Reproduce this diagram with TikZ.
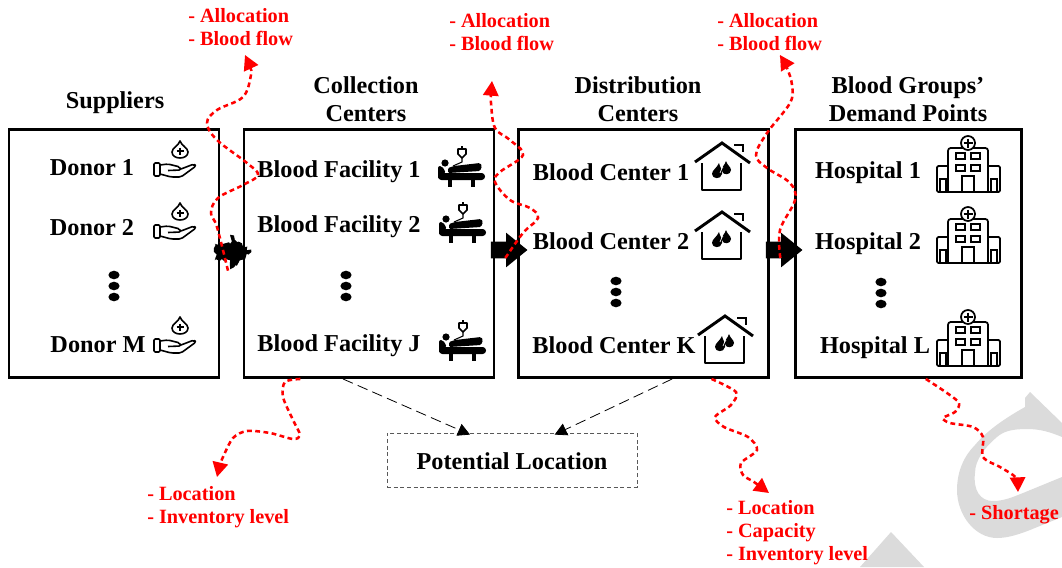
\documentclass[tikz,border=0pt]{standalone}
\usepackage{fontspec}
\setmainfont{Liberation Serif}
\usetikzlibrary{shapes, shapes.arrows, arrows.meta, decorations.pathmorphing, positioning}

\tikzset{
  stagebox/.style={draw, line width=2.2pt, minimum height=186pt, inner sep=0pt},
  blacklabel/.style={font=\fontsize{18.2}{21}\selectfont\bfseries, align=center, inner sep=0pt},
  redlabel/.style={font=\fontsize{15.2}{17.25}\selectfont\bfseries, text=red, align=left, anchor=north west, inner sep=0pt},
  blockarrow/.style={single arrow, fill=black, inner xsep=0pt, inner ysep=6pt, minimum height=27.5pt, minimum width=0pt,
    single arrow head extend=6.75pt, single arrow tip angle=78},
  redflow/.style={draw=red, line width=1.9pt, dash pattern=on 3.6pt off 2.6pt, line cap=butt,
    -{Triangle[length=11pt,width=11.5pt,fill=red]}},
  sitelink/.style={draw, line width=0.6pt, dash pattern=on 8pt off 4pt, -{Triangle[length=9pt,width=9.5pt]}},
  handicon/.pic={
    \draw[line width=1.2pt, line join=round] (5,-19) .. controls (6,-15) and (13,-12) .. (13,-8) .. controls (13,-4) and (9,-2) .. (5,-2)
      .. controls (1,-2) and (-3,-4) .. (-3,-8) .. controls (-3,-12) and (4,-15) .. (5,-19) -- cycle;
    \draw[line width=1pt] (1.5,-9) -- (8.5,-9) (5,-12.5) -- (5,-5.5);
    \draw[line width=1.2pt, rounded corners=1pt] (-21,3) rectangle (-15,16);
    \draw[line width=1.2pt, line join=round, rounded corners=1.5pt] (-15,5) -- (-7,4) -- (5,7) -- (6,10) -- (-7,10.5)
      (6,9) -- (19,4) -- (21,6) -- (6,17) -- (-4,17) -- (-15,14);
  },
  bedicon/.pic={
    \fill (-16,-4) circle (3.6);
    \draw[line width=0.9pt] (1,-21) -- (1,-18);
    \draw[line width=1.3pt, line join=round] (-3,-18) -- (5,-18) -- (5,-13) -- (1,-9) -- (-3,-13) -- cycle;
    \draw[line width=0.8pt] (1,-9) -- (1,-5) -- (-8,-1);
    \fill[rounded corners=1pt] (-13,1) -- (-7,-1) -- (19,-4) -- (21,-1) -- (19,4) -- (-13,6) -- cycle;
    \fill[rounded corners=1.5pt] (-23,-1) -- (-19,-1) -- (-15,6) -- (-23,12) -- cycle;
    \fill[rounded corners=2.5pt] (-23,6) rectangle (24,13);
    \draw[line width=3pt] (-11,12) -- (-11,20) (12,12) -- (12,20);
  },
  houseicon/.pic={
    \draw[line width=2.2pt, line join=miter] (-26,-5) -- (1,-24) -- (29,-4);
    \draw[line width=2.2pt] (13,-22) -- (22,-22) -- (22,-15);
    \draw[line width=2.2pt, line join=round] (-19,-4) -- (-19,23) -- (20,23) -- (20,-4);
    \fill (-2,-4) .. controls (-4,1) and (-9,3) .. (-9,7) .. controls (-9,12) and (0,13) .. (1,7) .. controls (2,3) and (-1,1) .. (-2,-4) -- cycle;
    \fill (5,-6) .. controls (4,-2) and (0,0) .. (1,4) .. controls (2,9) and (10,8) .. (10,3) .. controls (10,0) and (6,-2) .. (5,-6) -- cycle;
    \draw[white, line width=0.5pt] (-1,6) .. controls (0,3) and (1,1) .. (2,0);
  },
  hospitalicon/.pic={
    \draw[line width=1.3pt, rounded corners=2pt] (-20,28) -- (-20,-16) -- (20,-16) -- (20,28);
    \draw[line width=1.3pt, rounded corners=1pt] (-20,2) -- (-31,2) -- (-31,28) -- (32,28) -- (32,2) -- (20,2);
    \draw[line width=1.3pt, fill=white] (0,-21) circle (7);
    \draw[line width=1.1pt] (-4.5,-21) -- (4.5,-21) (0,-25.5) -- (0,-16.5);
    \foreach \wx in {-12,3} \foreach \wy in {-11,1} \draw[line width=1.3pt] (\wx,\wy) rectangle ++(9,6);
    \draw[line width=1.3pt] (-6,28) -- (-6,12) -- (6,12) -- (6,28);
    \draw[line width=1.3pt] (-28,28) -- (-28,15) -- (-22,15) -- (-22,28) (23,28) -- (23,15) -- (29,15) -- (29,28);
  }
}

\begin{document}
\begin{tikzpicture}[x=0.75pt, y=-0.75pt, >=latex]
    \useasboundingbox (0,0) rectangle (1062,567);

    \fill[black!14] (1030,392) -- (1062,423) -- (1062,437) .. controls (1050,432) and (1040,429) .. (1027,429)
      .. controls (1010,429) and (1003,432) .. (997,437) .. controls (985,447) and (975,460) .. (975,473)
      .. controls (973,490) and (980,501) .. (993,501) .. controls (1005,501) and (1015,496) .. (1023,493) -- (1062,477)
      -- (1062,517) -- (1030,530) .. controls (1015,536) and (1005,538) .. (997,538)
      .. controls (975,538) and (957,515) .. (957,490) .. controls (957,470) and (965,455) .. (975,445)
      .. controls (985,433) and (1000,421) .. (1025,407) -- (1025,398) -- cycle;
    \fill[black!14] (891,532) -- (924,567) -- (860,567) -- cycle;

    \node[stagebox, minimum width=157.5pt] (suppliers) at (114,253.5) {};
    \node[stagebox, minimum width=187.5pt] (collection) at (369,253.5) {};
    \node[stagebox, minimum width=187pt] (distribution) at (643.5,253.5) {};
    \node[stagebox, minimum width=170pt] (demand) at (908.5,253.5) {};
    \node[draw=black!65, densely dashed, line width=0.6pt, minimum width=187.5pt, minimum height=40.5pt] (potential) at (512,460) {};
    \node[blacklabel] (potentialtext) at (512,461) {Potential Location};

    \node[blacklabel] (supplierstitle) at (115,103) {Suppliers};
    \node[blacklabel] (collectiontitle) at (366,99) {Collection\\Centers};
    \node[blacklabel] (distributiontitle) at (638,99) {Distribution\\Centers};
    \node[blacklabel] (demandtitle) at (908,99) {Blood Groups'\\Demand Points};

    \node[blacklabel] (donora) at (92,168) {Donor 1};
    \node[blacklabel] (donorb) at (92,228) {Donor 2};
    \node[blacklabel] (donorm) at (98,345) {Donor M};
    \node[blacklabel] (facilitya) at (339,172) {Blood Facility 1};
    \node[blacklabel] (facilityb) at (339,227) {Blood Facility 2};
    \node[blacklabel] (facilityj) at (339,346) {Blood Facility J};
    \node[blacklabel] (centera) at (611,172) {Blood Center 1};
    \node[blacklabel] (centerb) at (611,241) {Blood Center 2};
    \node[blacklabel] (centerk) at (614,345) {Blood Center K};
    \node[blacklabel] (hospitala) at (868,173) {Hospital 1};
    \node[blacklabel] (hospitalb) at (868,244) {Hospital 2};
    \node[blacklabel] (hospitall) at (875,348) {Hospital L};

    \pic at (175,160) {handicon};
    \pic at (175,222) {handicon};
    \pic at (175,336) {handicon};
    \pic at (461,167) {bedicon};
    \pic at (462,223) {bedicon};
    \pic at (462,341) {bedicon};
    \pic at (721,167) {houseicon};
    \pic at (721,236) {houseicon};
    \pic at (724,340) {houseicon};
    \pic at (968,164) {hospitalicon};
    \pic at (968,235) {hospitalicon};
    \pic at (968,338) {hospitalicon};

    \foreach \dotx/\doty in {114/275, 346/275, 616/281, 881/282}
      \foreach \dotn in {0,1,2}
        \fill (\dotx,\doty+\dotn*11) ellipse [x radius=4.2pt, y radius=3.2pt];

    \node[blockarrow, decorate, decoration={random steps, segment length=2pt, amplitude=1.5pt}] (arrowsc) at (228,252) {};
    \node[blockarrow] (arrowcd) at (504,250) {};
    \node[blockarrow] (arrowdd) at (779,250) {};

    \draw[sitelink] ([xshift=-19.5pt]collection.south) -- ([xshift=-31.5pt, yshift=-1.5pt]potential.north);
    \draw[sitelink] ([xshift=21.5pt]distribution.south) -- ([xshift=32pt, yshift=-1.5pt]potential.north);

    \node[redlabel] (flowa) at (188,8) {- Allocation\\- Blood flow};
    \node[redlabel] (flowb) at (449,13) {- Allocation\\- Blood flow};
    \node[redlabel] (flowc) at (717,13) {- Allocation\\- Blood flow};
    \node[redlabel] (stocka) at (147,486) {- Location\\- Inventory level};
    \node[redlabel] (stockb) at (726,500) {- Location\\- Capacity\\- Inventory level};
    \node[redlabel] (short) at (969,505) {- Shortage};

    \coordinate (starta) at ([yshift=-14pt]arrowsc.center);
    \coordinate (startb) at ([xshift=1pt, yshift=-6pt]arrowcd.center);
    \coordinate (startc) at ([xshift=1pt, yshift=-6pt]arrowdd.center);
    \coordinate (startd) at ([xshift=-51.5pt]collection.south);
    \coordinate (starte) at ([xshift=51pt]distribution.south);
    \coordinate (startf) at ([xshift=13pt]demand.south);

    \draw[redflow] plot[smooth, tension=0.6] coordinates {(starta) (217,227) (211,213) (218,198) (243,185) (258,175) (247,163) (217,140) (207,123) (217,110) (243,97) (251,75) (250,67) (245,55)};
    \draw[redflow] plot[smooth, tension=0.6] coordinates {(startb) (523,233) (538,218) (530,208) (510,200) (495,182) (500,172) (523,155) (510,140) (495,128) (491,103) (491,95) (492,81)};
    \draw[redflow] plot[smooth, tension=0.6] coordinates {(startc) (780,230) (795,200) (790,183) (767,168) (756,155) (767,133) (790,103) (792,85) (787,68) (780,55)};
    \draw[redflow] plot[smooth, tension=0.5] coordinates {(startd) (285,382) (283,397) (293,420) (300,435) (293,439) (270,433) (247,431) (233,438) (223,457) (220,465) (217,477)};
    \draw[redflow] plot[smooth, tension=0.5] coordinates {(starte) (736,392) (731,405) (715,417) (724,427) (748,437) (757,450) (741,463) (743,475) (754,482) (769,493)};
    \draw[redflow] plot[smooth, tension=0.5] coordinates {(startf) (947,393) (959,403) (955,412) (943,418) (950,423) (973,427) (983,437) (983,457) (1000,467) (1013,475) (1017,480) (1018,492)};
\end{tikzpicture}
\end{document}
